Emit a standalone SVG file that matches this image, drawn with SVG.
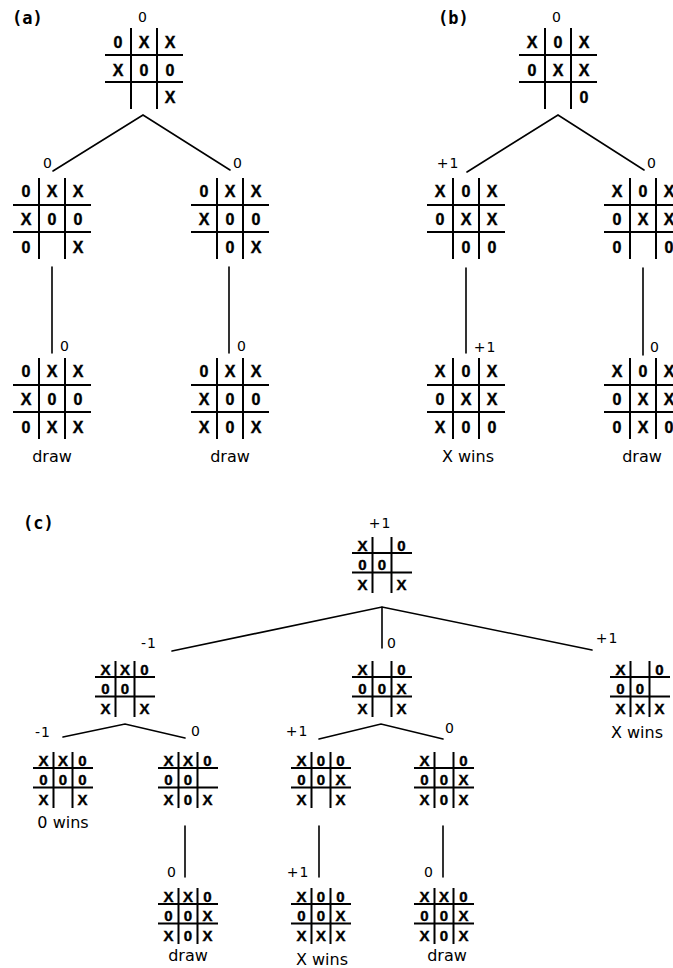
<svg xmlns="http://www.w3.org/2000/svg" xmlns:xlink="http://www.w3.org/1999/xlink" width="673" height="968" viewBox="0 0 673 968">
<style>
.g{stroke:#000;stroke-width:2;fill:none}
.c{stroke:#000;stroke-width:1.6;fill:none;stroke-linecap:round}
.b{font-family:"Liberation Sans",Arial,sans-serif;font-weight:bold;font-size:16px;text-anchor:middle;fill:#000;stroke:#000;stroke-width:0.4}
.s{font-family:"Liberation Sans",Arial,sans-serif;font-weight:bold;font-size:15px;text-anchor:middle;fill:#000;stroke:#000;stroke-width:0.4}
.v{font-family:"DejaVu Sans",sans-serif;font-size:14px;text-anchor:middle;fill:#000;letter-spacing:1px}
.r{font-family:"DejaVu Sans",sans-serif;font-size:16px;text-anchor:middle;fill:#000}
.p{font-family:"DejaVu Sans Mono",monospace;font-weight:bold;font-size:17px;fill:#000}
</style>
<defs>
<g id="G"><path class="g" d="M-13,0V81M13,0V81M-39,27H39M-39,54H39"/></g>
<g id="S"><path class="g" d="M-9.5,0V56M9.5,0V56M-30,16H30M-30,35.5H30"/></g>
</defs>
<rect width="673" height="968" fill="#fff"/>
<text class="p" x="12" y="24">(a)</text>
<text class="p" x="438" y="24">(b)</text>
<text class="p" x="23" y="529">(c)</text>
<g id="connectors">
<path class="c" d="M53,171L143,115L230,170"/>
<path class="c" d="M52,267V353M229,267V353"/>
<path class="c" d="M467,172L558,115L644,170"/>
<path class="c" d="M466,268V353M643,268V355"/>
<path class="c" d="M172,651L382,607L592,650M382,607V648"/>
<path class="c" d="M63,737L125,724L185,738"/>
<path class="c" d="M319,739L381,724L443,739"/>
<path class="c" d="M185,826V877M319,826V877M443,826V877"/>
</g>
<g id="a0"><text class="v" x="143" y="22">0</text><g transform="translate(144,28)"><use xlink:href="#G"/>
<text class="b" x="-26" y="20">0</text><text class="b" x="0" y="20">X</text><text class="b" x="26" y="20">X</text>
<text class="b" x="-26" y="48">X</text><text class="b" x="0" y="48">0</text><text class="b" x="26" y="48">0</text>
<text class="b" x="26" y="75">X</text></g></g>
<g id="a1"><text class="v" x="48" y="168">0</text><g transform="translate(52,178)"><use xlink:href="#G"/>
<text class="b" x="-26" y="19">0</text><text class="b" x="0" y="19">X</text><text class="b" x="26" y="19">X</text>
<text class="b" x="-26" y="47">X</text><text class="b" x="0" y="47">0</text><text class="b" x="26" y="47">0</text>
<text class="b" x="-26" y="75">0</text><text class="b" x="26" y="75">X</text></g></g>
<g id="a2"><text class="v" x="238" y="168">0</text><g transform="translate(230,178)"><use xlink:href="#G"/>
<text class="b" x="-26" y="19">0</text><text class="b" x="0" y="19">X</text><text class="b" x="26" y="19">X</text>
<text class="b" x="-26" y="47">X</text><text class="b" x="0" y="47">0</text><text class="b" x="26" y="47">0</text>
<text class="b" x="0" y="75">0</text><text class="b" x="26" y="75">X</text></g></g>
<g id="a3"><text class="v" x="65" y="351">0</text><g transform="translate(52,358)"><use xlink:href="#G"/>
<text class="b" x="-26" y="19">0</text><text class="b" x="0" y="19">X</text><text class="b" x="26" y="19">X</text>
<text class="b" x="-26" y="47">X</text><text class="b" x="0" y="47">0</text><text class="b" x="26" y="47">0</text>
<text class="b" x="-26" y="75">0</text><text class="b" x="0" y="75">X</text><text class="b" x="26" y="75">X</text></g>
<text class="r" x="52" y="462">draw</text></g>
<g id="a4"><text class="v" x="242" y="351">0</text><g transform="translate(230,358)"><use xlink:href="#G"/>
<text class="b" x="-26" y="19">0</text><text class="b" x="0" y="19">X</text><text class="b" x="26" y="19">X</text>
<text class="b" x="-26" y="47">X</text><text class="b" x="0" y="47">0</text><text class="b" x="26" y="47">0</text>
<text class="b" x="-26" y="75">X</text><text class="b" x="0" y="75">0</text><text class="b" x="26" y="75">X</text></g>
<text class="r" x="230" y="462">draw</text></g>
<g id="b0"><text class="v" x="557" y="22">0</text><g transform="translate(558,28)"><use xlink:href="#G"/>
<text class="b" x="-26" y="20">X</text><text class="b" x="0" y="20">0</text><text class="b" x="26" y="20">X</text>
<text class="b" x="-26" y="48">0</text><text class="b" x="0" y="48">X</text><text class="b" x="26" y="48">X</text>
<text class="b" x="26" y="75">0</text></g></g>
<g id="b1"><text class="v" x="448" y="168">+1</text><g transform="translate(466,178)"><use xlink:href="#G"/>
<text class="b" x="-26" y="19">X</text><text class="b" x="0" y="19">0</text><text class="b" x="26" y="19">X</text>
<text class="b" x="-26" y="47">0</text><text class="b" x="0" y="47">X</text><text class="b" x="26" y="47">X</text>
<text class="b" x="0" y="75">0</text><text class="b" x="26" y="75">0</text></g></g>
<g id="b2"><text class="v" x="652" y="168">0</text><g transform="translate(643,178)"><use xlink:href="#G"/>
<text class="b" x="-26" y="19">X</text><text class="b" x="0" y="19">0</text><text class="b" x="26" y="19">X</text>
<text class="b" x="-26" y="47">0</text><text class="b" x="0" y="47">X</text><text class="b" x="26" y="47">X</text>
<text class="b" x="-26" y="75">0</text><text class="b" x="26" y="75">0</text></g></g>
<g id="b3"><text class="v" x="485" y="352">+1</text><g transform="translate(466,358)"><use xlink:href="#G"/>
<text class="b" x="-26" y="19">X</text><text class="b" x="0" y="19">0</text><text class="b" x="26" y="19">X</text>
<text class="b" x="-26" y="47">0</text><text class="b" x="0" y="47">X</text><text class="b" x="26" y="47">X</text>
<text class="b" x="-26" y="75">X</text><text class="b" x="0" y="75">0</text><text class="b" x="26" y="75">0</text></g>
<text class="r" x="468" y="462">X wins</text></g>
<g id="b4"><text class="v" x="655" y="352">0</text><g transform="translate(643,358)"><use xlink:href="#G"/>
<text class="b" x="-26" y="19">X</text><text class="b" x="0" y="19">0</text><text class="b" x="26" y="19">X</text>
<text class="b" x="-26" y="47">0</text><text class="b" x="0" y="47">X</text><text class="b" x="26" y="47">X</text>
<text class="b" x="-26" y="75">0</text><text class="b" x="0" y="75">X</text><text class="b" x="26" y="75">0</text></g>
<text class="r" x="642" y="462">draw</text></g>
<g id="c0"><text class="v" x="380" y="528">+1</text><g transform="translate(382,537)"><use xlink:href="#S"/>
<text class="s" x="-19.5" y="14">X</text><text class="s" x="19.5" y="14">0</text>
<text class="s" x="-19.5" y="33">0</text><text class="s" x="0" y="33">0</text>
<text class="s" x="-19.5" y="53">X</text><text class="s" x="19.5" y="53">X</text></g></g>
<g id="c1"><text class="v" x="149" y="648">-1</text><g transform="translate(125,661)"><use xlink:href="#S"/>
<text class="s" x="-19.5" y="14">X</text><text class="s" x="0" y="14">X</text><text class="s" x="19.5" y="14">0</text>
<text class="s" x="-19.5" y="33">0</text><text class="s" x="0" y="33">0</text>
<text class="s" x="-19.5" y="53">X</text><text class="s" x="19.5" y="53">X</text></g></g>
<g id="c2"><text class="v" x="392" y="648">0</text><g transform="translate(382,661)"><use xlink:href="#S"/>
<text class="s" x="-19.5" y="14">X</text><text class="s" x="19.5" y="14">0</text>
<text class="s" x="-19.5" y="33">0</text><text class="s" x="0" y="33">0</text><text class="s" x="19.5" y="33">X</text>
<text class="s" x="-19.5" y="53">X</text><text class="s" x="19.5" y="53">X</text></g></g>
<g id="c3"><text class="v" x="607" y="643">+1</text><g transform="translate(640,661)"><use xlink:href="#S"/>
<text class="s" x="-19.5" y="14">X</text><text class="s" x="19.5" y="14">0</text>
<text class="s" x="-19.5" y="33">0</text><text class="s" x="0" y="33">0</text>
<text class="s" x="-19.5" y="53">X</text><text class="s" x="0" y="53">X</text><text class="s" x="19.5" y="53">X</text></g>
<text class="r" x="637" y="738">X wins</text></g>
<g id="c4"><text class="v" x="43" y="737">-1</text><g transform="translate(63,752)"><use xlink:href="#S"/>
<text class="s" x="-19.5" y="14">X</text><text class="s" x="0" y="14">X</text><text class="s" x="19.5" y="14">0</text>
<text class="s" x="-19.5" y="33">0</text><text class="s" x="0" y="33">0</text><text class="s" x="19.5" y="33">0</text>
<text class="s" x="-19.5" y="53">X</text><text class="s" x="19.5" y="53">X</text></g>
<text class="r" x="63" y="828">0 wins</text></g>
<g id="c5"><text class="v" x="196" y="736">0</text><g transform="translate(188,752)"><use xlink:href="#S"/>
<text class="s" x="-19.5" y="14">X</text><text class="s" x="0" y="14">X</text><text class="s" x="19.5" y="14">0</text>
<text class="s" x="-19.5" y="33">0</text><text class="s" x="0" y="33">0</text>
<text class="s" x="-19.5" y="53">X</text><text class="s" x="0" y="53">0</text><text class="s" x="19.5" y="53">X</text></g></g>
<g id="c6"><text class="v" x="297" y="736">+1</text><g transform="translate(321,752)"><use xlink:href="#S"/>
<text class="s" x="-19.5" y="14">X</text><text class="s" x="0" y="14">0</text><text class="s" x="19.5" y="14">0</text>
<text class="s" x="-19.5" y="33">0</text><text class="s" x="0" y="33">0</text><text class="s" x="19.5" y="33">X</text>
<text class="s" x="-19.5" y="53">X</text><text class="s" x="19.5" y="53">X</text></g></g>
<g id="c7"><text class="v" x="450" y="733">0</text><g transform="translate(444,752)"><use xlink:href="#S"/>
<text class="s" x="-19.5" y="14">X</text><text class="s" x="19.5" y="14">0</text>
<text class="s" x="-19.5" y="33">0</text><text class="s" x="0" y="33">0</text><text class="s" x="19.5" y="33">X</text>
<text class="s" x="-19.5" y="53">X</text><text class="s" x="0" y="53">0</text><text class="s" x="19.5" y="53">X</text></g></g>
<g id="c8"><text class="v" x="172" y="877">0</text><g transform="translate(188,888)"><use xlink:href="#S"/>
<text class="s" x="-19.5" y="14">X</text><text class="s" x="0" y="14">X</text><text class="s" x="19.5" y="14">0</text>
<text class="s" x="-19.5" y="33">0</text><text class="s" x="0" y="33">0</text><text class="s" x="19.5" y="33">X</text>
<text class="s" x="-19.5" y="53">X</text><text class="s" x="0" y="53">0</text><text class="s" x="19.5" y="53">X</text></g>
<text class="r" x="188" y="961">draw</text></g>
<g id="c9"><text class="v" x="298" y="877">+1</text><g transform="translate(321,888)"><use xlink:href="#S"/>
<text class="s" x="-19.5" y="14">X</text><text class="s" x="0" y="14">0</text><text class="s" x="19.5" y="14">0</text>
<text class="s" x="-19.5" y="33">0</text><text class="s" x="0" y="33">0</text><text class="s" x="19.5" y="33">X</text>
<text class="s" x="-19.5" y="53">X</text><text class="s" x="0" y="53">X</text><text class="s" x="19.5" y="53">X</text></g>
<text class="r" x="322" y="965">X wins</text></g>
<g id="c10"><text class="v" x="429" y="877">0</text><g transform="translate(444,888)"><use xlink:href="#S"/>
<text class="s" x="-19.5" y="14">X</text><text class="s" x="0" y="14">X</text><text class="s" x="19.5" y="14">0</text>
<text class="s" x="-19.5" y="33">0</text><text class="s" x="0" y="33">0</text><text class="s" x="19.5" y="33">X</text>
<text class="s" x="-19.5" y="53">X</text><text class="s" x="0" y="53">0</text><text class="s" x="19.5" y="53">X</text></g>
<text class="r" x="447" y="961">draw</text></g>
</svg>
